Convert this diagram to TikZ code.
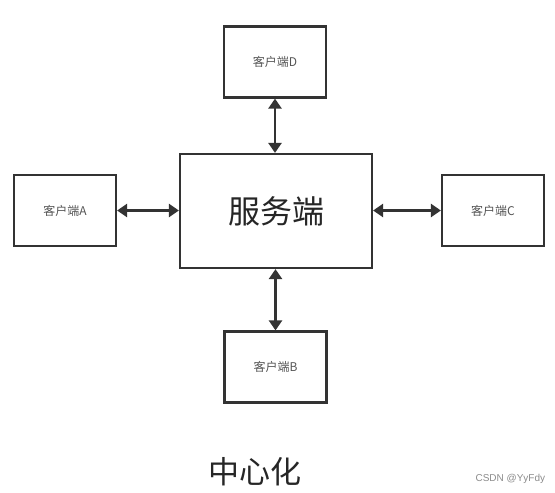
\documentclass[tikz,border=0pt]{standalone}
\usepackage{fontspec}
\setmainfont{Noto Sans CJK SC}
\newfontfamily\latinsans{Liberation Sans}
\usetikzlibrary{arrows.meta}
\definecolor{linec}{HTML}{333333}
\definecolor{textc}{HTML}{555555}
\begin{document}
\begin{tikzpicture}[x=1pt,y=-1pt,
  box/.style={draw=linec,line width=2.2pt,inner sep=0pt,text=textc},
  client/.style={box,minimum width=102pt,minimum height=71pt,font=\fontsize{12}{14}\selectfont},
  link/.style={draw=linec,line width=2.4pt,{Triangle[length=10pt,width=13pt]}-{Triangle[length=10pt,width=13pt]}}]
\useasboundingbox (0,0) rectangle (555,493);
\fill[white] (0,0) rectangle (555,493);
\node[box,minimum width=192pt,minimum height=114pt,font=\fontsize{32}{36}\selectfont,text=black!85] (S) at (276,211) {服务端};
\node[client] (D) at (275,62) {客户端D};
\node[client] (B) at (275.5,367) {客户端B};
\node[client] (A) at (65,210.5) {客户端A};
\node[client] (C) at (493,210.5) {客户端C};
\draw[link] (D.south) -- (S.north -| D.south);
\draw[link] (S.south -| B.north) -- (B.north);
\draw[link] (A.east) -- (S.west |- A.east);
\draw[link] (S.east |- C.west) -- (C.west);
\node[font=\fontsize{31}{34}\selectfont,text=black!85] (title) at (255,472) {中心化};
\node[font=\latinsans\fontsize{10}{12}\selectfont,text=black!45,anchor=west] (wm) at (472,479) {CSDN @YyFdy};
\end{tikzpicture}
\end{document}
